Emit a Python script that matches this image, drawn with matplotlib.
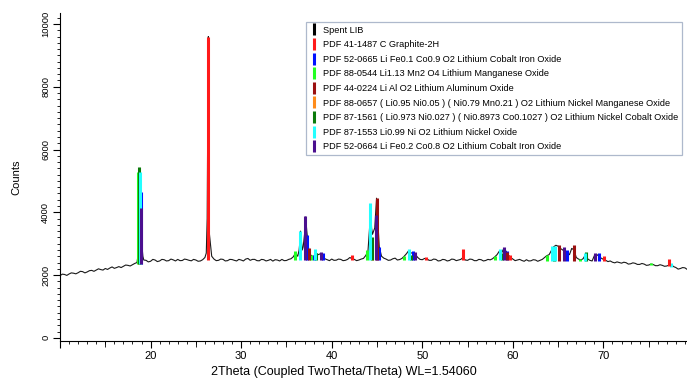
import matplotlib
matplotlib.use('Agg')
import matplotlib.pyplot as plt
from matplotlib.lines import Line2D
from matplotlib.ticker import MultipleLocator, FuncFormatter
import numpy as np

plt.rcParams['font.family'] = ['Liberation Sans', 'DejaVu Sans']

# measured pattern (Spent LIB), read every 0.5 deg from 10 to 80
grid_start = 10.0
grid_counts = [1980, 2020, 2035, 2060, 2075, 2110, 2100, 2150, 2160, 2175,
               2210, 2225, 2215, 2270, 2280, 2310, 2330, 2400, 3100, 2470,
               2440, 2480, 2450, 2490, 2460, 2485, 2500, 2465, 2495, 2455,
               2480, 2450, 2560, 3300, 2510, 2470, 2500, 2460, 2495, 2450,
               2480, 2510, 2470, 2500, 2455, 2490, 2470, 2445, 2480, 2500,
               2465, 2520, 2700, 3100, 3300, 2700, 2580, 2650, 2600, 2490,
               2510, 2475, 2500, 2470, 2560, 2500, 2480, 2530, 2750, 3300,
               4200, 2600, 2510, 2480, 2540, 2495, 2600, 2780, 2720, 2560,
               2490, 2520, 2470, 2500, 2460, 2490, 2465, 2500, 2480, 2560,
               2470, 2500, 2460, 2490, 2465, 2485, 2580, 2760, 2850, 2640,
               2510, 2480, 2465, 2490, 2455, 2480, 2470, 2560, 2650, 2900,
               2920, 2800, 2720, 2850, 2560, 2480, 2640, 2470, 2620, 2600,
               2500, 2430, 2410, 2420, 2380, 2395, 2360, 2375, 2340, 2350,
               2320, 2335, 2300, 2310, 2290, 2330, 2240, 2210, 2230, 2195,
               2210]

# values in between, at 10.25, 10.75, ... 79.75
mid_counts = [2030, 1990, 2070, 2040, 2120, 2070, 2140, 2120, 2200, 2160,
              2180, 2260, 2240, 2240, 2320, 2290, 2370, 4300, 2480, 2420,
              2500, 2430, 2500, 2450, 2510, 2450, 2460, 2510, 2470, 2500,
              2440, 2490, 3800, 2600, 2460, 2510, 2450, 2500, 2470, 2500,
              2450, 2530, 2500, 2460, 2500, 2450, 2500, 2490, 2450, 2460,
              2500, 2580, 2600, 2800, 3400, 2620, 2700, 2680, 2520, 2460,
              2470, 2510, 2460, 2500, 2520, 2460, 2510, 2620, 3800, 3500,
              2900, 2540, 2470, 2520, 2480, 2530, 2680, 2700, 2650, 2500,
              2530, 2470, 2510, 2450, 2500, 2450, 2510, 2460, 2500, 2480,
              2510, 2460, 2500, 2450, 2500, 2520, 2650, 2700, 2760, 2560,
              2460, 2500, 2440, 2450, 2490, 2440, 2500, 2620, 2780, 2950,
              2850, 2760, 2650, 2800, 2510, 2520, 2520, 2450, 2660, 2540,
              2470, 2450, 2390, 2400, 2410, 2350, 2390, 2340, 2370, 2310,
              2350, 2300, 2330, 2280, 2320, 2270, 2190, 2240, 2180, 2220]

# extra points on the sharp peaks
pk_tt = [18.65, 18.82, 18.9, 19.15,
         26.15, 26.33, 26.38, 26.43,
         36.4, 36.55, 36.85, 37.12,
         44.3, 44.4, 44.95]
pk_counts = [2700, 5400, 4500, 2600,
             2700, 7800, 9600, 7500,
             2800, 3400, 2900, 3850,
             4250, 3500, 4450]

# background level under the reference sticks
bg_tt = [10, 14, 18, 22, 30, 40, 50, 60, 65, 70, 75, 80]
bg_counts = [2000, 2150, 2340, 2460, 2480, 2490, 2480, 2470, 2460, 2440, 2330, 2210]

phases = [
    'Spent LIB',
    'PDF 41-1487 C Graphite-2H',
    'PDF 52-0665 Li Fe0.1 Co0.9 O2 Lithium Cobalt Iron Oxide',
    'PDF 88-0544 Li1.13 Mn2 O4 Lithium Manganese Oxide',
    'PDF 44-0224 Li Al O2 Lithium Aluminum Oxide',
    'PDF 88-0657 ( Li0.95 Ni0.05 ) ( Ni0.79 Mn0.21 ) O2 Lithium Nickel Manganese Oxide',
    'PDF 87-1561 ( Li0.973 Ni0.027 ) ( Ni0.8973 Co0.1027 ) O2 Lithium Nickel Cobalt Oxide',
    'PDF 87-1553 Li0.99 Ni O2 Lithium Nickel Oxide',
    'PDF 52-0664 Li Fe0.2 Co0.8 O2 Lithium Cobalt Iron Oxide',
]
colors = ['#000000', '#ff1a1a', '#0010ff', '#22ff22', '#9b1010',
          '#ff8c1a', '#0a7a0a', '#22ffff', '#4b0f8f']

# stick positions (2theta) and tops (counts) for each reference card
sticks = {
    2: ([18.95, 37.3, 38.0, 39.05, 45.25, 49.0, 59.3, 65.95, 69.5],
        [4650, 3280, 2640, 2700, 2900, 2780, 2780, 2800, 2700]),
    3: ([18.65, 36.0, 37.75, 43.85, 48.0, 58.0, 63.75, 67.4, 75.3],
        [5300, 2780, 2640, 2800, 2610, 2610, 2640, 2520, 2400]),
    5: ([18.7, 44.45, 64.5],
        [4000, 3000, 2700]),
    6: ([18.75, 38.3, 44.5, 48.7, 58.75, 64.55, 68.1],
        [5450, 2700, 3200, 2650, 2700, 2800, 2720]),
    7: ([18.8, 36.5, 38.2, 44.25, 48.5, 58.6, 64.35, 64.7, 68.0, 77.5],
        [5300, 3420, 2830, 4290, 2820, 2820, 2940, 2940, 2700, 2380]),
    4: ([37.45, 45.05, 59.4, 65.1, 66.75],
        [2870, 4450, 2750, 2970, 2970]),
    8: ([18.9, 37.1, 38.8, 44.9, 49.2, 59.0, 65.6, 69.1],
        [4140, 3890, 2750, 3920, 2720, 2910, 2900, 2700]),
    1: ([26.38, 42.2, 50.4, 54.5, 59.7, 70.1, 77.2],
        [9600, 2640, 2590, 2830, 2630, 2610, 2500]),
}

grid_tt = grid_start + 0.5 * np.arange(len(grid_counts))
mid_tt = grid_start + 0.25 + 0.5 * np.arange(len(mid_counts))
tt = np.concatenate([grid_tt, mid_tt, pk_tt])
cnt = np.concatenate([grid_counts, mid_counts, pk_counts])
order = np.argsort(tt)
tt, cnt = tt[order], cnt[order]

fig = plt.figure(figsize=(6.87, 3.81), dpi=100)
ax = fig.add_axes([60 / 687, 1 - 341 / 381, 634 / 687, 328 / 381])

ax.plot(tt, cnt, color='#1a1a1a', lw=0.8, zorder=2)

for k, (pos, top) in sticks.items():
    base = np.interp(pos, bg_tt, bg_counts)
    ax.vlines(pos, base, top, color=colors[k], lw=2.2, zorder=3)

ax.set_xlim(10, 80)
ax.set_ylim(-100, 10350)

ax.spines['right'].set_visible(False)
ax.spines['top'].set_visible(False)
ax.spines['left'].set_linewidth(0.8)
ax.spines['bottom'].set_linewidth(0.8)

ax.xaxis.set_major_locator(MultipleLocator(10))
ax.xaxis.set_minor_locator(MultipleLocator(1))
ax.xaxis.set_major_formatter(FuncFormatter(lambda v, p: '' if v < 15 else '%d' % v))
ax.yaxis.set_major_locator(MultipleLocator(2000))
ax.yaxis.set_minor_locator(MultipleLocator(200))
ax.tick_params(axis='both', which='major', length=5, width=0.8, direction='out')
ax.tick_params(axis='both', which='minor', length=2.5, width=0.6, direction='out')
ax.tick_params(axis='x', labelsize=8, pad=2)
ax.tick_params(axis='y', labelsize=6.8, pad=2)
for lab in ax.get_xticklabels():
    lab.set_family(['Liberation Sans Narrow', 'Liberation Sans'])
for lab in ax.get_yticklabels():
    lab.set_rotation(90)
    lab.set_va('center')

sec = ax.secondary_xaxis('bottom')
sec.set_xticks([15, 25, 35, 45, 55, 65, 75])
sec.tick_params(length=4, width=0.6, labelbottom=False)
sec.spines['bottom'].set_visible(False)

ax.set_ylabel('Counts', fontsize=8, labelpad=14)
fig.text(344 / 687, 1 - 372 / 381, '2Theta (Coupled TwoTheta/Theta) WL=1.54060',
         ha='center', va='center', fontsize=9,
         family=['Liberation Sans Narrow', 'Liberation Sans'])

handles = [Line2D([], [], color=c, marker='|', markersize=8, markeredgewidth=2.2,
                  linestyle='none') for c in colors]
leg = fig.legend(handles, phases, loc='upper left',
                 bbox_to_anchor=(306 / 687, 1 - 22 / 381),
                 fontsize=6.6, frameon=True, fancybox=False,
                 edgecolor='#aeb9cc', framealpha=1, borderpad=0.4,
                 labelspacing=0.61, handlelength=0.9, handletextpad=0.6,
                 borderaxespad=0)
leg.get_frame().set_linewidth(0.9)

fig.savefig('out.png', dpi=100)
